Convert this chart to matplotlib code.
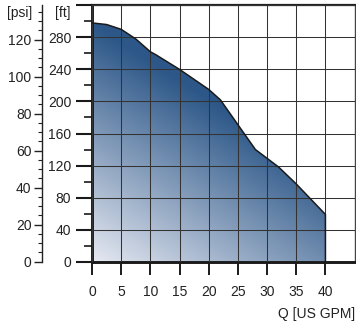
import numpy as np
import matplotlib.pyplot as plt
from matplotlib.patches import Polygon
from matplotlib.colors import LinearSegmentedColormap

plt.rcParams['font.family'] = ['Liberation Sans', 'DejaVu Sans']

# Curva da bomba: vazão x altura manométrica
q = [0, 2.5, 5, 7.5, 10, 11, 15, 20, 22, 25, 28, 30, 32, 35, 37.5, 40]
h = [298, 296, 290, 278, 262, 258, 240, 215, 202, 171, 140, 129, 118, 97, 78, 59]

x_ticks = [0, 5, 10, 15, 20, 25, 30, 35, 40]
ft_ticks = [0, 40, 80, 120, 160, 200, 240, 280, 320]
ft_labels = ['0', '40', '80', '120', '160', '200', '240', '280', '']
psi_ticks = [0, 20, 40, 60, 80, 100, 120]
FT_PER_PSI = 2.31

fig = plt.figure(figsize=(3.56, 3.23), dpi=100)
ax = fig.add_axes([92 / 356, (323 - 261.7) / 323, 262.6 / 356, 256.4 / 323])
ax.set_xlim(0, 45)
ax.set_ylim(0, 320)

# gradiente do preenchimento, recortado pela curva
cmap = LinearSegmentedColormap.from_list('azul', ['#e6e9f2', '#2c5788'])
uu, vv = np.meshgrid(np.linspace(0, 1, 300), np.linspace(0, 1, 300))
s = np.clip(0.63 * uu + 1.0 * vv, 0, 1)
img = ax.imshow(s, cmap=cmap, vmin=0, vmax=1, origin='lower',
                extent=[0, q[-1], 0, max(h)], aspect='auto', zorder=1,
                interpolation='bilinear')
verts = list(zip(q, h)) + [(q[-1], 0), (0, 0)]
poly = Polygon(verts, closed=True, facecolor='none', edgecolor='none',
               transform=ax.transData)
ax.add_patch(poly)
img.set_clip_path(poly)

ax.plot(q + [q[-1]], h + [0], color='#1a1a1a', lw=1.1, zorder=4)

# grade (linha vertical em 45 vem da borda direita)
ax.set_xticks(x_ticks)
ax.set_yticks(ft_ticks)
ax.set_yticklabels(ft_labels)
ax.set_yticks(np.arange(20, 320, 40), minor=True)
ax.grid(True, which='major', color='#333333', lw=0.75)
ax.set_axisbelow(False)

for side in ['left', 'bottom']:
    ax.spines[side].set_linewidth(2.1)
    ax.spines[side].set_color('#1a1a1a')
ax.spines['top'].set_linewidth(1.6)
ax.spines['top'].set_color('#222222')
ax.spines['right'].set_linewidth(1.0)
ax.spines['right'].set_color('#444444')

ax.tick_params(axis='x', which='major', length=9, width=1.4, pad=7.5,
               labelsize=10, colors='#1a1a1a', labelcolor='#222222')
ax.tick_params(axis='y', which='major', length=11.5, width=1.5, pad=3.5,
               labelsize=10, colors='#1a1a1a', labelcolor='#222222')
ax.tick_params(axis='y', which='minor', length=5.8, width=1.2, colors='#1a1a1a')

# eixo secundário em psi
ax2 = ax.twinx()
ax2.set_ylim(0, 320 / FT_PER_PSI)
ax2.spines['left'].set_position(('outward', 36))
ax2.spines['left'].set_visible(True)
ax2.spines['left'].set_linewidth(1.0)
ax2.spines['left'].set_color('#222222')
for side in ['right', 'top', 'bottom']:
    ax2.spines[side].set_visible(False)
ax2.yaxis.set_ticks_position('left')
ax2.yaxis.set_label_position('left')
ax2.set_yticks(psi_ticks)
ax2.set_yticks(np.arange(5, 136, 5), minor=True)
ax2.tick_params(axis='y', which='major', length=6, width=1.0, pad=1.5,
                labelsize=10, colors='#222222')
ax2.tick_params(axis='y', which='minor', length=3, width=0.8, colors='#222222')

fig.text(20 / 356, 1 - 13 / 323, '[psi]', ha='center', va='center',
         fontsize=10, color='#222222')
fig.text(63 / 356, 1 - 13 / 323, '[ft]', ha='center', va='center',
         fontsize=10, color='#222222')
fig.text(355 / 356, 1 - 314 / 323, 'Q [US GPM]', ha='right', va='center',
         fontsize=10, color='#222222')

fig.savefig('out.png', dpi=100)
